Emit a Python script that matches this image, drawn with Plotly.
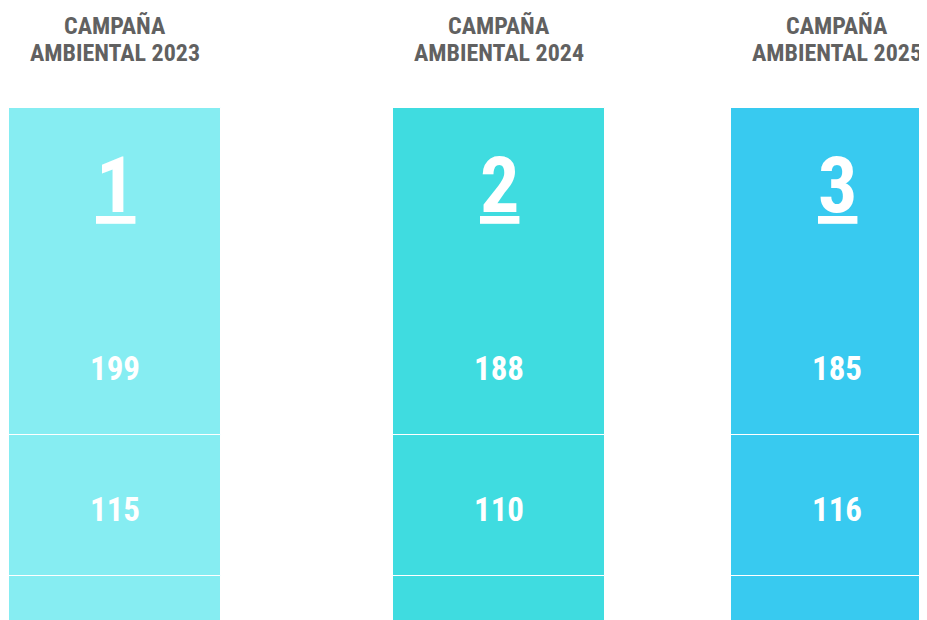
import plotly.graph_objects as go

# ---- data ----
campaign_keys = ["CAMPAÑA AMBIENTAL 2023", "CAMPAÑA AMBIENTAL 2024", "CAMPAÑA AMBIENTAL 2025"]
title_line1 = ["CAMPAÑA", "CAMPAÑA", "CAMPAÑA"]
title_line2 = ["AMBIENTAL 2023", "AMBIENTAL 2024", "AMBIENTAL 2025"]
campaign_numbers = ["1", "2", "3"]
row1_values = [199, 188, 185]
row2_values = [115, 110, 116]
colors = ["#86EDF2", "#3FDCE0", "#38CAF0"]

# ---- layout geometry (figure pixels; page has 8px body margin) ----
W, H = 919, 612
BAR_TOP = 100
HEADER_H = 186
ROW_H = 141
COL_LEFT = [1, 385, 723]
BAR_W = 212
TEXT_DY = 4
FONT = "Liberation Sans Narrow, Roboto Condensed, DejaVu Sans Condensed, Arial Narrow, Liberation Sans, sans-serif"

fig = go.Figure()
layout_axes = {}
annotations = []

for i in range(3):
    ax = "" if i == 0 else str(i + 1)
    xref = "x" + ax
    cat = [campaign_keys[i]]
    left = COL_LEFT[i]
    right = min(left + BAR_W, W)
    layout_axes["xaxis" + ax] = dict(
        domain=[left / W, right / W],
        type="category",
        range=[-0.5, -0.5 + (right - left) / BAR_W],
        visible=False,
        fixedrange=True,
    )
    row1_base = BAR_TOP + HEADER_H
    row2_base = row1_base + ROW_H
    row3_base = row2_base + ROW_H
    # visible segments: header+row1 block, row2, row3
    for b, h in [(BAR_TOP, HEADER_H + ROW_H), (row2_base, ROW_H), (row3_base, ROW_H)]:
        fig.add_trace(go.Bar(
            x=cat, y=[h], base=[b], xaxis=xref, yaxis="y",
            marker=dict(color=colors[i], line=dict(color="white", width=1)),
            hoverinfo="skip", showlegend=False,
        ))
    # transparent carriers for the value labels
    for b, v in [(row1_base, row1_values[i]), (row2_base, row2_values[i])]:
        fig.add_trace(go.Bar(
            x=cat, y=[ROW_H], base=[b + TEXT_DY], xaxis=xref, yaxis="y",
            marker=dict(color="rgba(0,0,0,0)", line=dict(width=0)),
            text=[str(v)], textposition="inside", insidetextanchor="middle", textangle=0,
            textfont=dict(family=FONT, size=33, color="white", weight="bold"),
            hoverinfo="skip", showlegend=False,
        ))
    annotations.append(dict(
        x=campaign_keys[i], y=BAR_TOP + 77, xref=xref, yref="y",
        text=campaign_numbers[i], showarrow=False, yanchor="middle",
        font=dict(family=FONT, size=78, color="white", weight="bold", lineposition="under"),
    ))
    annotations.append(dict(
        x=campaign_keys[i], y=18, xref=xref, yref="y",
        text=title_line1[i], showarrow=False, yanchor="middle",
        font=dict(family=FONT, size=24, color="#616161", weight="bold"),
    ))
    annotations.append(dict(
        x=campaign_keys[i], y=45, xref=xref, yref="y",
        text=title_line2[i], showarrow=False, yanchor="middle",
        font=dict(family=FONT, size=24, color="#616161", weight="bold"),
    ))

fig.update_layout(
    width=W, height=H,
    margin=dict(l=0, r=0, t=0, b=0),
    paper_bgcolor="white", plot_bgcolor="white",
    barmode="overlay", bargap=0,
    yaxis=dict(range=[H, 0], domain=[0, 1], visible=False, fixedrange=True),
    annotations=annotations,
    hovermode=False,
    **layout_axes,
)

fig.write_html("out.html", config={"displayModeBar": False})
